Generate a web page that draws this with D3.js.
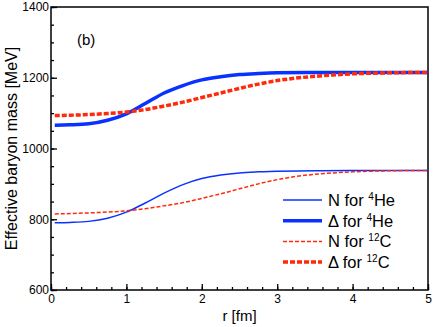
<!DOCTYPE html>
<html>
<head>
<meta charset="utf-8">
<script src="https://cdn.jsdelivr.net/npm/d3@7"></script>
<style>
  html, body { margin: 0; padding: 0; background: #fff; overflow: hidden; }
  svg { display: block; }
  svg text { font-family: "Liberation Sans", Arial, Helvetica, sans-serif; }
</style>
</head>
<body>
<div id="chart"></div>
<script>
// radius grid for each series [fm]
const rHeN = [0.05, 0.25, 0.5, 0.75, 1.0, 1.25, 1.5, 1.75, 2.0, 2.25, 2.5, 2.75, 3.0, 3.5, 4.0, 5.0];
const massHeN = [790, 791, 794, 803, 820, 846, 874, 898, 915, 925, 931, 934, 936, 937, 938, 938];

const rHeD = [0.05, 0.25, 0.5, 0.75, 1.0, 1.25, 1.5, 1.75, 2.0, 2.25, 2.5, 2.75, 3.0, 3.5, 4.0, 5.0];
const massHeD = [1066, 1067, 1070, 1080, 1098, 1127, 1157, 1178, 1194, 1203, 1209, 1212, 1214, 1215, 1215, 1215];

const rCN = [0.05, 0.5, 1.0, 1.25, 1.5, 1.75, 2.0, 2.25, 2.5, 2.75, 3.0, 3.25, 3.5, 3.75, 4.0, 4.5, 5.0];
const massCN = [815, 818, 824, 830, 838, 847, 859, 872, 886, 900, 912, 921, 927, 931, 934, 937, 938];

const rCD = [0.05, 0.25, 0.5, 0.75, 1.0, 1.25, 1.5, 1.75, 2.0, 2.25, 2.5, 2.75, 3.0, 3.25, 3.5, 4.0, 4.5, 5.0];
const massCD = [1093, 1094, 1096, 1099, 1103, 1110, 1120, 1131, 1144, 1157, 1170, 1182, 1192, 1199, 1204, 1211, 1214, 1215];

const xTicks = [0, 1, 2, 3, 4, 5];
const yTicks = [600, 800, 1000, 1200, 1400];

const width = 436, height = 327;
const margin = { top: 7, right: 8, bottom: 37, left: 51 };
const innerWidth = width - margin.left - margin.right;
const innerHeight = height - margin.top - margin.bottom;

const svg = d3.select("#chart").append("svg")
    .attr("width", width)
    .attr("height", height);
const g = svg.append("g")
    .attr("transform", `translate(${margin.left},${margin.top})`);

const x = d3.scaleLinear().domain([0, 5]).range([0, innerWidth]);
const y = d3.scaleLinear().domain([600, 1400]).range([innerHeight, 0]);

// frame
g.append("rect")
    .attr("width", innerWidth).attr("height", innerHeight)
    .attr("fill", "none").attr("stroke", "#000").attr("stroke-width", 1.5);

// minor ticks (inside), no labels
const xMinor = g.append("g").attr("transform", `translate(0,${innerHeight})`)
    .call(d3.axisBottom(x).tickValues(d3.range(0, 5.001, 0.2)).tickSize(-3).tickFormat(""));
xMinor.selectAll("text").remove();
const yMinor = g.append("g")
    .call(d3.axisLeft(y).tickValues(d3.range(600, 1401, 50)).tickSize(-3).tickFormat(""));
yMinor.selectAll("text").remove();

// major ticks with labels
const xAxis = g.append("g").attr("transform", `translate(0,${innerHeight})`)
    .call(d3.axisBottom(x).tickValues(xTicks).tickSize(-6).tickPadding(4).tickFormat(d3.format("d")));
const yAxis = g.append("g")
    .call(d3.axisLeft(y).tickValues(yTicks).tickSize(-6).tickPadding(2).tickFormat(d3.format("d")));
[xAxis, yAxis, xMinor, yMinor].forEach(a => {
    a.select(".domain").remove();
    a.selectAll("line").attr("stroke-width", 1.3);
    a.selectAll("text").attr("font-size", 12).attr("fill", "#000")
        .attr("font-family", "Liberation Sans, Arial, sans-serif");
});

// axis titles
svg.append("text")
    .attr("x", margin.left + innerWidth / 2).attr("y", 321)
    .attr("text-anchor", "middle").attr("font-size", 15)
    .text("r [fm]");
svg.append("text")
    .attr("transform", `translate(17,${margin.top + innerHeight / 2}) rotate(-90)`)
    .attr("text-anchor", "middle").attr("font-size", 16)
    .text("Effective baryon mass [MeV]");

g.append("text")
    .attr("x", 26).attr("y", 38)
    .attr("font-size", 15)
    .text("(b)");

const blue = "#0a32ff", red = "#ff2a0a";
const series = [
    { r: rHeN, m: massHeN, color: blue, w: 1.5, dash: null, name: "N for ", sup: "4", el: "He" },
    { r: rHeD, m: massHeD, color: blue, w: 3.5, dash: null, name: "\u0394 for ", sup: "4", el: "He" },
    { r: rCN, m: massCN, color: red, w: 1.5, dash: "4,2", name: "N for ", sup: "12", el: "C" },
    { r: rCD, m: massCD, color: red, w: 3.5, dash: "5,2", name: "\u0394 for ", sup: "12", el: "C" }
];

const line = d3.line()
    .x(d => x(d[0]))
    .y(d => y(d[1]))
    .curve(d3.curveMonotoneX);

series.forEach(s => {
    g.append("path")
        .datum(d3.zip(s.r, s.m))
        .attr("d", line)
        .attr("fill", "none")
        .attr("stroke", s.color)
        .attr("stroke-width", s.w)
        .attr("stroke-dasharray", s.dash);
});

// legend
const legend = svg.append("g");
series.forEach((s, i) => {
    const ly = 200 + i * 20.7;
    legend.append("line")
        .attr("x1", 283).attr("x2", 322)
        .attr("y1", ly).attr("y2", ly)
        .attr("stroke", s.color)
        .attr("stroke-width", s.w)
        .attr("stroke-dasharray", s.dash);
    const t = legend.append("text")
        .attr("x", 328).attr("y", ly + 6)
        .attr("font-size", 16.5);
    t.append("tspan").text(s.name);
    t.append("tspan").attr("font-size", 10).attr("dy", -6).text(s.sup);
    t.append("tspan").attr("dy", 6).text(s.el);
});
</script>
</body>
</html>
